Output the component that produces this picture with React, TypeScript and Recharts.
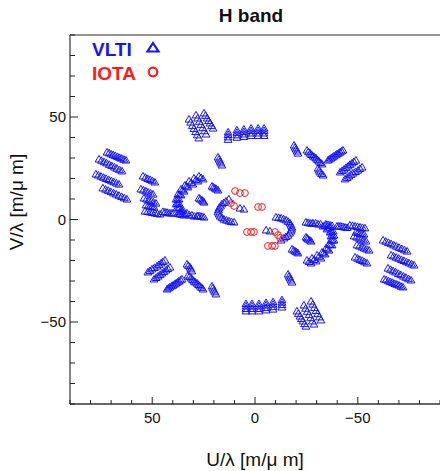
import React from 'react';
import { ScatterChart, Scatter, XAxis, YAxis, ReferenceLine } from 'recharts';

type UV = [number, number];

// VLTI (u, v) samples in m/µm, one run of samples per baseline track
const vltiTracks: UV[] = [
  // long E-W baselines, far side
  [72.0, 32.9], [71.0, 32.5], [70.0, 32.0], [69.0, 31.6], [68.0, 31.2], [66.9, 30.7], [65.9, 30.3], [64.9, 29.9], [63.8, 29.4], [62.8, 29.0],
  [75.9, 29.5], [74.7, 28.9], [73.4, 28.2], [72.2, 27.6], [70.9, 26.9], [69.7, 26.3], [68.4, 25.6], [67.2, 25.0], [65.9, 24.3], [64.7, 23.7],
  [77.4, 22.2], [76.2, 21.7], [74.9, 21.1], [73.7, 20.6], [72.4, 20.0], [71.2, 19.5], [69.9, 18.9], [68.7, 18.4], [67.4, 17.8], [66.2, 17.3],
  [74.0, 15.4], [72.7, 14.8], [71.4, 14.2], [70.1, 13.6], [68.8, 13.0], [67.5, 12.4], [66.2, 11.8], [64.9, 11.2], [63.6, 10.6], [62.3, 10.0],
  // mid baselines
  [54.5, 21.2], [53.3, 20.6], [52.2, 20.0], [51.0, 19.5], [49.9, 18.9], [48.7, 18.3],
  [55.5, 14.9], [54.3, 14.4], [53.1, 13.9], [52.0, 13.4], [50.8, 12.9], [49.6, 12.4],
  [54.0, 10.5], [52.8, 10.0], [51.7, 9.5], [50.5, 9.0], [49.4, 8.5], [48.2, 8.0],
  [53.0, 7.1], [52.0, 6.8], [51.1, 6.6], [50.1, 6.3], [49.2, 6.1],
  [53.5, 4.1], [52.3, 3.9], [51.1, 3.7], [49.9, 3.4], [48.7, 3.2], [47.5, 2.9], [46.2, 2.7],
  [44.8, 3.9], [43.8, 3.7], [42.8, 3.5], [41.8, 3.2], [40.8, 3.2], [39.9, 3.2], [37.5, 2.9], [36.5, 2.7],
  [35.5, 2.5], [34.5, 2.2], [27.8, 1.9], [26.8, 1.7], [25.8, 1.5], [24.8, 1.2],
  // arc
  [25.3, 19.8], [27.7, 18.8], [30.2, 17.3], [32.6, 15.9], [34.5, 13.9], [36.0, 12.0], [37.0, 10.0],
  [37.0, 8.0], [36.5, 6.1], [35.0, 4.6], [33.1, 3.2], [30.7, 2.2], [28.2, 1.7],
  [26.3, 20.5], [28.7, 19.5], [31.1, 18.0], [33.3, 16.3], [35.2, 14.4], [36.7, 12.2], [37.7, 10.0],
  [37.7, 7.8], [37.2, 5.8], [35.7, 4.1], [34.0, 2.9], [31.9, 2.2], [29.5, 1.7],
  [27.3, 21.2], [29.7, 20.2], [32.1, 18.8], [34.1, 16.8], [36.0, 14.9], [37.5, 12.4], [38.4, 10.0],
  [38.4, 7.6], [38.0, 5.6], [36.5, 3.7],
  // short baselines
  [27.3, 10.5], [26.6, 10.0], [25.8, 9.5], [25.3, 9.0], [24.8, 8.5],
  [20.9, 16.3], [20.2, 15.8], [19.5, 15.4], [18.8, 14.9], [18.0, 14.4],
  [18.0, 30.5], [17.5, 29.5], [17.0, 28.5], [16.6, 27.6], [16.1, 26.6],
  [14.1, 9.0], [15.1, 8.3], [16.1, 7.6], [16.8, 6.6], [17.5, 5.6], [17.8, 4.7], [18.0, 3.7], [17.5, 2.7],
  [17.0, 1.7], [16.1, 0.9], [15.1, 0.2], [13.9, -0.3], [12.7, -0.7], [11.5, -1.0], [10.2, -1.2],
  [12.7, 10.0], [7.3, 5.6], [5.4, 5.1],
  // N-S baselines
  [32.1, 49.0], [31.3, 47.5], [30.5, 45.9], [29.7, 44.4], [28.9, 42.9], [28.1, 41.3], [27.3, 39.8],
  [28.7, 51.0], [27.9, 49.5], [27.1, 47.9], [26.3, 46.4], [25.4, 44.8], [24.6, 43.3], [23.8, 41.7],
  [24.8, 52.0], [24.1, 50.8], [23.3, 49.5], [22.6, 48.3], [21.9, 47.1], [21.1, 45.8], [20.4, 44.6],
  [13.1, 42.7], [13.1, 41.5], [13.1, 40.3], [13.1, 39.1],
  [8.8, 43.7], [8.8, 42.5], [8.8, 41.3], [8.8, 40.1],
  [5.4, 44.1], [5.4, 42.9], [5.4, 41.7], [5.4, 40.5],
  [1.9, 44.6], [1.9, 43.4], [1.9, 42.2], [1.9, 41.0],
  [-1.5, 44.6], [-1.5, 43.4], [-1.5, 42.2], [-1.5, 41.0],
  [-4.4, 44.6], [-4.4, 43.4], [-4.4, 42.2], [-4.4, 41.0],
  [-19.0, 36.3], [-19.5, 35.3], [-20.0, 34.4], [-20.5, 33.4], [-20.9, 32.4],
  [-25.3, 33.9], [-26.0, 33.1], [-26.8, 32.4], [-27.5, 31.7], [-28.2, 31.0], [-29.0, 30.5], [-29.7, 30.0],
  [-30.4, 29.2], [-31.1, 28.5], [-31.9, 27.8], [-32.6, 27.1],
  [-30.7, 25.1], [-31.2, 24.1], [-31.6, 23.2], [-32.4, 22.4], [-33.1, 21.7],
  [-35.5, 29.0], [-36.2, 29.5], [-37.0, 30.0], [-37.7, 30.5], [-38.4, 31.0], [-39.2, 31.5], [-39.9, 32.0],
  [-40.6, 32.4], [-41.4, 32.9], [-42.1, 33.4], [-42.8, 33.9],
  [-41.4, 23.2], [-42.4, 23.9], [-43.3, 24.6], [-44.3, 25.4], [-45.3, 26.1], [-46.2, 26.9], [-47.2, 27.6], [-48.1, 28.3], [-49.1, 29.0],
  [-43.8, 19.8], [-44.8, 20.5], [-45.7, 21.2], [-46.7, 22.0], [-47.7, 22.7], [-48.9, 23.4], [-50.1, 24.1], [-51.1, 24.9], [-52.1, 25.6],
];

// VLTI conjugate samples (-u, -v)
const vltiConjugates: UV[] = [
  [-72.0, -32.9], [-71.0, -32.5], [-70.0, -32.0], [-69.0, -31.6], [-68.0, -31.2], [-66.9, -30.7], [-65.9, -30.3], [-64.9, -29.9], [-63.8, -29.4], [-62.8, -29.0],
  [-75.9, -29.5], [-74.7, -28.9], [-73.4, -28.2], [-72.2, -27.6], [-70.9, -26.9], [-69.7, -26.3], [-68.4, -25.6], [-67.2, -25.0], [-65.9, -24.3], [-64.7, -23.7],
  [-77.4, -22.2], [-76.2, -21.7], [-74.9, -21.1], [-73.7, -20.6], [-72.4, -20.0], [-71.2, -19.5], [-69.9, -18.9], [-68.7, -18.4], [-67.4, -17.8], [-66.2, -17.3],
  [-74.0, -15.4], [-72.7, -14.8], [-71.4, -14.2], [-70.1, -13.6], [-68.8, -13.0], [-67.5, -12.4], [-66.2, -11.8], [-64.9, -11.2], [-63.6, -10.6], [-62.3, -10.0],
  [-54.5, -21.2], [-53.3, -20.6], [-52.2, -20.0], [-51.0, -19.5], [-49.9, -18.9], [-48.7, -18.3],
  [-55.5, -14.9], [-54.3, -14.4], [-53.1, -13.9], [-52.0, -13.4], [-50.8, -12.9], [-49.6, -12.4],
  [-54.0, -10.5], [-52.8, -10.0], [-51.7, -9.5], [-50.5, -9.0], [-49.4, -8.5], [-48.2, -8.0],
  [-53.0, -7.1], [-52.0, -6.8], [-51.1, -6.6], [-50.1, -6.3], [-49.2, -6.1],
  [-53.5, -4.1], [-52.3, -3.9], [-51.1, -3.7], [-49.9, -3.4], [-48.7, -3.2], [-47.5, -2.9], [-46.2, -2.7],
  [-44.8, -3.9], [-43.8, -3.7], [-42.8, -3.5], [-41.8, -3.2], [-40.8, -3.2], [-39.9, -3.2], [-37.5, -2.9], [-36.5, -2.7],
  [-35.5, -2.5], [-34.5, -2.2], [-27.8, -1.9], [-26.8, -1.7], [-25.8, -1.5], [-24.8, -1.2],
  [-25.3, -19.8], [-27.7, -18.8], [-30.2, -17.3], [-32.6, -15.9], [-34.5, -13.9], [-36.0, -12.0], [-37.0, -10.0],
  [-37.0, -8.0], [-36.5, -6.1], [-35.0, -4.6], [-33.1, -3.2], [-30.7, -2.2], [-28.2, -1.7],
  [-26.3, -20.5], [-28.7, -19.5], [-31.1, -18.0], [-33.3, -16.3], [-35.2, -14.4], [-36.7, -12.2], [-37.7, -10.0],
  [-37.7, -7.8], [-37.2, -5.8], [-35.7, -4.1], [-34.0, -2.9], [-31.9, -2.2], [-29.5, -1.7],
  [-27.3, -21.2], [-29.7, -20.2], [-32.1, -18.8], [-34.1, -16.8], [-36.0, -14.9], [-37.5, -12.4], [-38.4, -10.0],
  [-38.4, -7.6], [-38.0, -5.6], [-36.5, -3.7],
  [-27.3, -10.5], [-26.6, -10.0], [-25.8, -9.5], [-25.3, -9.0], [-24.8, -8.5],
  [-20.9, -16.3], [-20.2, -15.8], [-19.5, -15.4], [-18.8, -14.9], [-18.0, -14.4],
  [-18.0, -30.5], [-17.5, -29.5], [-17.0, -28.5], [-16.6, -27.6], [-16.1, -26.6],
  [-14.1, -9.0], [-15.1, -8.3], [-16.1, -7.6], [-16.8, -6.6], [-17.5, -5.6], [-17.8, -4.7], [-18.0, -3.7], [-17.5, -2.7],
  [-17.0, -1.7], [-16.1, -0.9], [-15.1, -0.2], [-13.9, 0.3], [-12.7, 0.7], [-11.5, 1.0], [-10.2, 1.2],
  [-12.7, -10.0], [-7.3, -5.6], [-5.4, -5.1],
  [-32.1, -49.0], [-31.3, -47.5], [-30.5, -45.9], [-29.7, -44.4], [-28.9, -42.9], [-28.1, -41.3], [-27.3, -39.8],
  [-28.7, -51.0], [-27.9, -49.5], [-27.1, -47.9], [-26.3, -46.4], [-25.4, -44.8], [-24.6, -43.3], [-23.8, -41.7],
  [-24.8, -52.0], [-24.1, -50.8], [-23.3, -49.5], [-22.6, -48.3], [-21.9, -47.1], [-21.1, -45.8], [-20.4, -44.6],
  [-13.1, -42.7], [-13.1, -41.5], [-13.1, -40.3], [-13.1, -39.1],
  [-8.8, -43.7], [-8.8, -42.5], [-8.8, -41.3], [-8.8, -40.1],
  [-5.4, -44.1], [-5.4, -42.9], [-5.4, -41.7], [-5.4, -40.5],
  [-1.9, -44.6], [-1.9, -43.4], [-1.9, -42.2], [-1.9, -41.0],
  [1.5, -44.6], [1.5, -43.4], [1.5, -42.2], [1.5, -41.0],
  [4.4, -44.6], [4.4, -43.4], [4.4, -42.2], [4.4, -41.0],
  [19.0, -36.3], [19.5, -35.3], [20.0, -34.4], [20.5, -33.4], [20.9, -32.4],
  [25.3, -33.9], [26.0, -33.1], [26.8, -32.4], [27.5, -31.7], [28.2, -31.0], [29.0, -30.5], [29.7, -30.0],
  [30.4, -29.2], [31.1, -28.5], [31.9, -27.8], [32.6, -27.1],
  [30.7, -25.1], [31.2, -24.1], [31.6, -23.2], [32.4, -22.4], [33.1, -21.7],
  [35.5, -29.0], [36.2, -29.5], [37.0, -30.0], [37.7, -30.5], [38.4, -31.0], [39.2, -31.5], [39.9, -32.0],
  [40.6, -32.4], [41.4, -32.9], [42.1, -33.4], [42.8, -33.9],
  [41.4, -23.2], [42.4, -23.9], [43.3, -24.6], [44.3, -25.4], [45.3, -26.1], [46.2, -26.9], [47.2, -27.6], [48.1, -28.3], [49.1, -29.0],
  [43.8, -19.8], [44.8, -20.5], [45.7, -21.2], [46.7, -22.0], [47.7, -22.7], [48.9, -23.4], [50.1, -24.1], [51.1, -24.9], [52.1, -25.6],
];

// IOTA (u, v) samples
const iotaSamples: UV[] = [
  [9.7, 13.9], [7.3, 12.9], [4.9, 12.9],
  [11.7, 8.0], [10.2, 6.6],
  [-1.5, 6.1], [-3.4, 6.1],
  [3.9, -6.1], [1.9, -6.1], [0.5, -6.1],
  [-9.7, -6.1], [-11.2, -7.6], [-12.2, -9.0],
  [-6.3, -12.9], [-8.3, -12.9], [-9.7, -12.9],
];

const axisTicks = [-90, -80, -70, -60, -50, -40, -30, -20, -10, 0, 10, 20, 30, 40, 50, 60, 70, 80, 90];
const labelledTicks = [-50, 0, 50];

const vltiData = [...vltiTracks, ...vltiConjugates].map(([u, v]) => ({ u, v }));
const iotaData = iotaSamples.map(([u, v]) => ({ u, v }));

const FONT = '"Liberation Sans", Arial, Helvetica, sans-serif';
const BLUE = '#1414ff';
const RED = '#ff1a1a';

const fmt = (n: number) => (n < 0 ? `\u2212${Math.abs(n)}` : `${n}`);

const TriangleMark = (props: any) => {
  const { cx, cy } = props;
  if (cx == null || cy == null) return null;
  return (
    <polygon
      points={`${cx},${cy - 3.6} ${cx + 3.9},${cy + 3} ${cx - 3.9},${cy + 3}`}
      fill="none"
      stroke={BLUE}
      strokeWidth={1}
    />
  );
};

const CircleMark = (props: any) => {
  const { cx, cy } = props;
  if (cx == null || cy == null) return null;
  return <circle cx={cx} cy={cy} r={3.4} fill="none" stroke={RED} strokeWidth={1} />;
};

const XTick = (props: any) => {
  const { x, y, payload } = props;
  const major = labelledTicks.includes(payload.value);
  return (
    <g>
      <line x1={x} x2={x} y1={y} y2={y - (major ? 7 : 4)} stroke="#222" strokeWidth={1} />
      {major && (
        <text x={x} y={y + 19} textAnchor="middle" fontSize={15} fontFamily={FONT} fill="#111">
          {fmt(payload.value)}
        </text>
      )}
    </g>
  );
};

const YTick = (props: any) => {
  const { x, y, payload } = props;
  const major = labelledTicks.includes(payload.value);
  return (
    <g>
      <line x1={x} x2={x + (major ? 8 : 5)} y1={y} y2={y} stroke="#222" strokeWidth={1} />
      {major && (
        <text x={x - 4} y={y + 5} textAnchor="end" fontSize={15} fontFamily={FONT} fill="#111">
          {fmt(payload.value)}
        </text>
      )}
    </g>
  );
};

export default function App() {
  return (
    <div style={{ position: 'absolute', left: 0, top: 0, width: 440, height: 471, background: '#fff' }}>
      <ScatterChart width={440} height={471} margin={{ top: 35, right: 0, bottom: 0, left: 0 }}>
        <XAxis
          type="number"
          dataKey="u"
          domain={[-90, 90]}
          reversed
          ticks={axisTicks}
          interval={0}
          tickSize={0}
          tickMargin={0}
          tickLine={false}
          tick={<XTick />}
          height={67}
          axisLine={{ stroke: '#333', strokeWidth: 1.5 }}
          allowDataOverflow
        />
        <YAxis
          type="number"
          dataKey="v"
          domain={[-90, 90]}
          ticks={axisTicks}
          interval={0}
          tickSize={0}
          tickMargin={0}
          tickLine={false}
          tick={<YTick />}
          width={70}
          axisLine={{ stroke: '#858585', strokeWidth: 2 }}
          allowDataOverflow
        />
        <ReferenceLine y={90} stroke="#707070" strokeWidth={1.5} />
        <Scatter name="VLTI" data={vltiData} shape={TriangleMark} isAnimationActive={false} />
        <Scatter name="IOTA" data={iotaData} shape={CircleMark} isAnimationActive={false} />
      </ScatterChart>
      <svg
        width={440}
        height={471}
        style={{ position: 'absolute', left: 0, top: 0, pointerEvents: 'none' }}
        fontFamily={FONT}
      >
        <text x={251} y={22} textAnchor="middle" fontSize={19} fontWeight="bold" fill="#111">
          H band
        </text>
        <text x={255} y={466} textAnchor="middle" fontSize={19} fill="#111">
          U/λ [m/μ m]
        </text>
        <text
          x={0}
          y={0}
          transform="translate(23,202) rotate(-90)"
          textAnchor="middle"
          fontSize={19}
          fill="#111"
        >
          V/λ [m/μ m]
        </text>
        <text x={92} y={56} fontSize={19} fontWeight="bold" fill={BLUE}>
          VLTI
        </text>
        <polygon points="153,43 158.5,51.5 147.5,51.5" fill="none" stroke={BLUE} strokeWidth={2.2} />
        <text x={92} y={80} fontSize={19} fontWeight="bold" fill={RED}>
          IOTA
        </text>
        <circle cx={153} cy={72} r={4.3} fill="none" stroke={RED} strokeWidth={2.2} />
      </svg>
    </div>
  );
}
